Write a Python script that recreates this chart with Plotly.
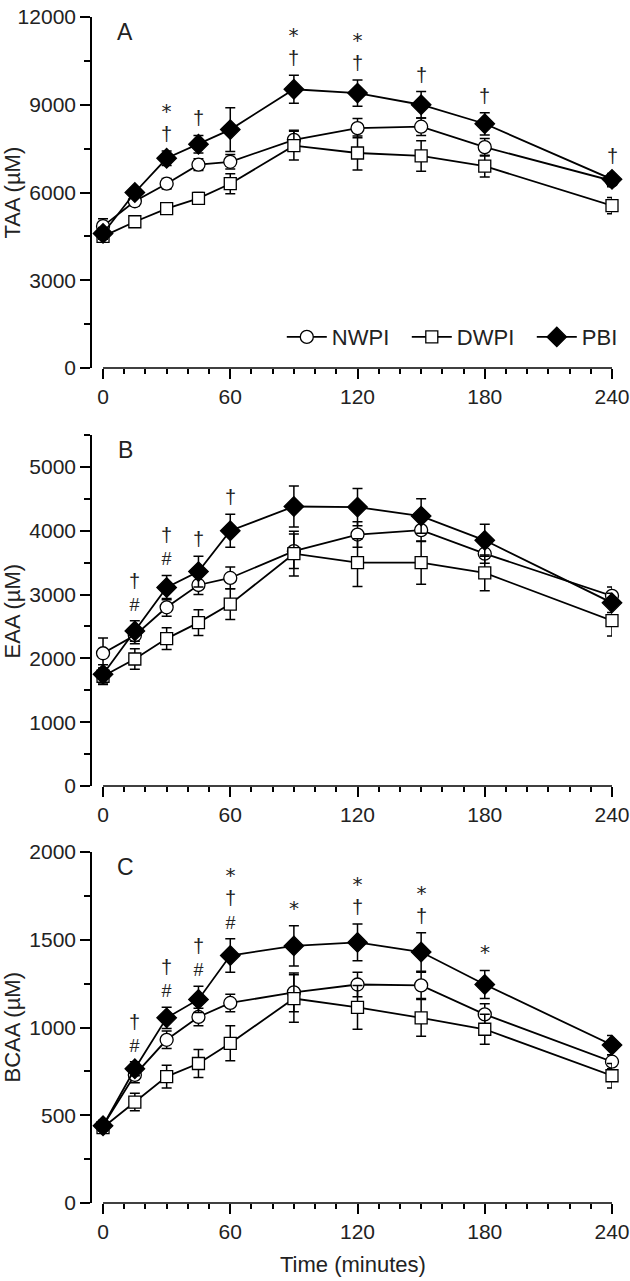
import plotly.graph_objects as go

# ---------------- data ----------------
time = [0, 15, 30, 45, 60, 90, 120, 150, 180, 240]
series_names = ["NWPI", "DWPI", "PBI"]

# Panel A: TAA
nwpi_taa = [4850, 5700, 6300, 6950, 7050, 7800, 8200, 8250, 7550, 6400]
nwpi_taa_se = [250, 150, 180, 200, 250, 330, 330, 300, 300, 200]
dwpi_taa = [4500, 5000, 5450, 5800, 6300, 7600, 7350, 7250, 6900, 5550]
dwpi_taa_se = [200, 150, 150, 200, 340, 490, 580, 520, 370, 280]
pbi_taa = [4600, 6000, 7170, 7650, 8150, 9530, 9400, 9000, 8350, 6450]
pbi_taa_se = [200, 150, 250, 300, 750, 480, 450, 450, 380, 200]
sig_taa = ["", "", "*†", "†", "", "*†", "*†", "†", "†", "†"]

# Panel B: EAA
nwpi_eaa = [2080, 2360, 2800, 3150, 3260, 3680, 3940, 4010, 3640, 2980]
nwpi_eaa_se = [240, 130, 140, 150, 170, 270, 200, 180, 150, 140]
dwpi_eaa = [1720, 1990, 2310, 2560, 2850, 3640, 3500, 3500, 3340, 2590]
dwpi_eaa_se = [130, 160, 170, 200, 240, 350, 375, 340, 280, 240]
pbi_eaa = [1750, 2430, 3110, 3360, 4000, 4380, 4370, 4230, 3850, 2870]
pbi_eaa_se = [150, 160, 190, 240, 260, 320, 290, 270, 250, 150]
sig_eaa = ["", "†#", "†#", "†", "†", "", "", "", "", ""]

# Panel C: BCAA
nwpi_bcaa = [440, 730, 930, 1060, 1140, 1200, 1245, 1240, 1075, 805]
nwpi_bcaa_se = [30, 45, 50, 50, 50, 110, 70, 75, 60, 40]
dwpi_bcaa = [430, 575, 720, 795, 910, 1165, 1115, 1055, 990, 725]
dwpi_bcaa_se = [30, 50, 65, 80, 100, 135, 125, 105, 85, 70]
pbi_bcaa = [440, 765, 1055, 1160, 1410, 1465, 1485, 1430, 1245, 900]
pbi_bcaa_se = [30, 40, 60, 75, 95, 115, 105, 110, 80, 55]
sig_bcaa = ["", "†#", "†#", "†#", "*†#", "*", "*†", "*†", "*", ""]

x_ticks = [0, 60, 120, 180, 240]

panels = [
    dict(letter="A", title="TAA (µM)", yrange=[0, 12000], dtick=3000, minor=1500,
         vals=[nwpi_taa, dwpi_taa, pbi_taa], ses=[nwpi_taa_se, dwpi_taa_se, pbi_taa_se],
         sig=sig_taa, domain=[0.70405, 1.0]),
    dict(letter="B", title="EAA (µM)", yrange=[0, 5500], dtick=1000, minor=500,
         vals=[nwpi_eaa, dwpi_eaa, pbi_eaa], ses=[nwpi_eaa_se, dwpi_eaa_se, pbi_eaa_se],
         sig=sig_eaa, domain=[0.35160, 0.64755]),
    dict(letter="C", title="BCAA (µM)", yrange=[0, 2000], dtick=500, minor=250,
         vals=[nwpi_bcaa, dwpi_bcaa, pbi_bcaa], ses=[nwpi_bcaa_se, dwpi_bcaa_se, pbi_bcaa_se],
         sig=sig_bcaa, domain=[0.0, 0.29595]),
]

FONT = "Liberation Sans, Arial, sans-serif"
TXT = "#222"
styles = [
    dict(symbol="circle", color="white", size=13),
    dict(symbol="square", color="white", size=12),
    dict(symbol="diamond", color="black", size=15),
]
sym_style = {
    "*": "font-size:20px;font-family:DejaVu Sans",
    "†": "font-size:20px",
    "#": "font-size:18px",
}

fig = go.Figure()
annotations = []
shapes = []
layout_axes = {}

for i, p in enumerate(panels):
    sfx = "" if i == 0 else str(i + 1)
    xa, ya = "x" + sfx, "y" + sfx
    for k, name in enumerate(series_names):
        st = styles[k]
        fig.add_trace(go.Scatter(
            x=time, y=p["vals"][k], name=name, mode="lines+markers",
            xaxis=xa, yaxis=ya, showlegend=(i == 0), legendrank=k + 1,
            line=dict(color="black", width=1.8),
            marker=dict(symbol=st["symbol"], size=st["size"], color=st["color"],
                        line=dict(color="black", width=1.3)),
            error_y=dict(type="data", array=p["ses"][k], color="black",
                         thickness=1.5, width=5),
            cliponaxis=False,
        ))
    layout_axes["xaxis" + sfx] = dict(
        domain=[0, 1], range=[-5.2, 240], anchor=ya, tickmode="array", tickvals=x_ticks,
        ticks="outside", ticklen=10, tickwidth=1.5, tickcolor="black",
        minor=dict(tickmode="linear", tick0=0, dtick=10, ticks="outside", ticklen=5,
                   tickwidth=1.5, tickcolor="black"),
        showline=False, showgrid=False, zeroline=False, ticklabeloverflow="allow",
        automargin=False,
        tickfont=dict(family=FONT, size=21, color=TXT),
    )
    layout_axes["yaxis" + sfx] = dict(
        domain=p["domain"], range=p["yrange"], anchor=xa, tickmode="linear", tick0=0,
        dtick=p["dtick"], ticks="outside", ticklen=10, tickwidth=1.5, tickcolor="black",
        minor=dict(tickmode="linear", tick0=0, dtick=p["minor"], ticks="outside",
                   ticklen=6, tickwidth=1.5, tickcolor="black"),
        showline=True, linewidth=1.6, linecolor="black", showgrid=False, zeroline=False,
        tickformat="d", ticklabeloverflow="allow", automargin=False,
        tickfont=dict(family=FONT, size=21, color=TXT),
    )
    # detached x axis line from 0 to 240
    shapes.append(dict(type="line", xref=xa, yref=ya + " domain", x0=time[0], x1=time[-1],
                       y0=0, y1=0, line=dict(color="black", width=1.6), layer="above"))
    # panel letter
    annotations.append(dict(text=p["letter"], xref=xa + " domain", yref=ya + " domain",
                            x=0.0635, y=0.957, xanchor="center", yanchor="middle",
                            showarrow=False, font=dict(family=FONT, size=23, color=TXT)))
    # y title
    annotations.append(dict(text=p["title"], xref="paper", yref=ya + " domain",
                            x=-0.152, y=0.5, xanchor="center", yanchor="middle",
                            textangle=-90, showarrow=False,
                            font=dict(family=FONT, size=22, color=TXT)))
    # significance symbols (stacked in one text block)
    for j, t in enumerate(time):
        syms = p["sig"][j]
        if not syms:
            continue
        top = max(p["vals"][k][j] + p["ses"][k][j] for k in range(3))
        txt = "<br>".join(f"<span style='{sym_style[s]}'>{s}</span>" for s in syms)
        annotations.append(dict(text=txt, xref=xa, yref=ya, x=t, y=top,
                                xanchor="center", yanchor="bottom", yshift=4,
                                showarrow=False,
                                font=dict(family=FONT, size=18, color=TXT)))

annotations.append(dict(text="Time (minutes)", xref="paper", yref="paper", x=0.502, y=0,
                        xanchor="center", yanchor="middle", yshift=-61, showarrow=False,
                        font=dict(family=FONT, size=22, color=TXT)))

fig.update_layout(
    width=630, height=1281,
    margin=dict(l=92, r=18, t=17, b=78, autoexpand=False),
    paper_bgcolor="white", plot_bgcolor="white",
    showlegend=True,
    legend=dict(orientation="h", x=0.365, xanchor="left", y=0.7301, yanchor="middle",
                font=dict(family=FONT, size=22, color=TXT), itemwidth=40,
                entrywidth=70, entrywidthmode="pixels",
                bgcolor="rgba(0,0,0,0)"),
    annotations=annotations, shapes=shapes,
    **layout_axes,
)

fig.write_html("out.html", config={"displayModeBar": False},
               post_script="document.body.style.margin='0px';document.body.style.padding='0px';")
